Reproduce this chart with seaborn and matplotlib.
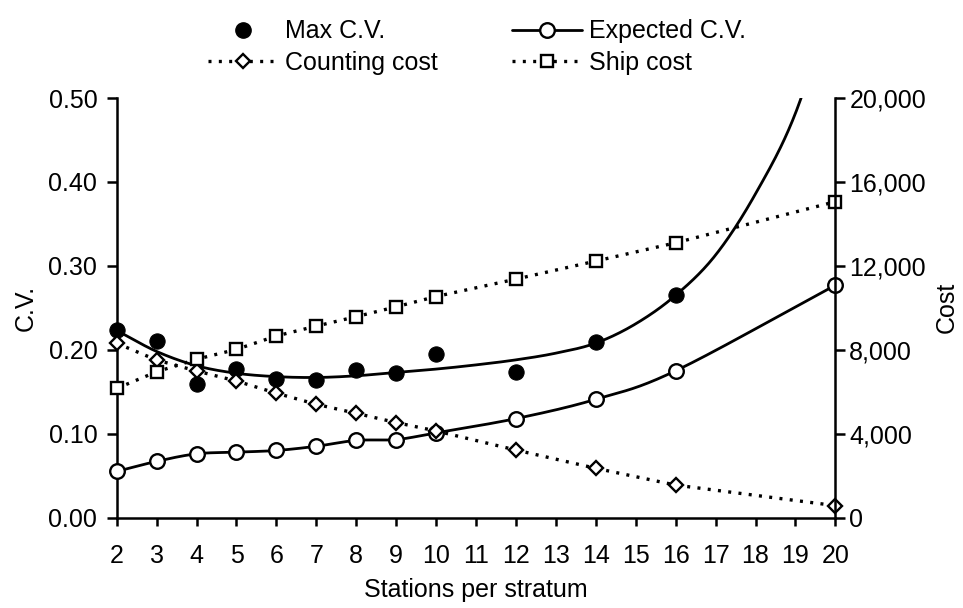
import numpy as np
import pandas as pd
import matplotlib
matplotlib.use("Agg")
import matplotlib.pyplot as plt
from matplotlib.lines import Line2D
from matplotlib.ticker import FuncFormatter
import seaborn as sns

# ---- data ----
stations = [2, 3, 4, 5, 6, 7, 8, 9, 10, 12, 14, 16, 20]
max_cv_stations = [2, 3, 4, 5, 6, 7, 8, 9, 10, 12, 14, 16]
max_cv = [0.223, 0.211, 0.159, 0.177, 0.165, 0.164, 0.176, 0.172, 0.195, 0.173, 0.209, 0.265]
expected_cv = [0.055, 0.067, 0.076, 0.078, 0.080, 0.085, 0.092, 0.093, 0.101, 0.118, 0.141, 0.175, 0.277]
counting_cost = [8310, 7510, 6990, 6510, 5930, 5400, 4970, 4530, 4130, 3220, 2350, 1550, 570]
ship_cost = [6160, 6950, 7550, 8020, 8660, 9130, 9580, 10050, 10540, 11370, 12230, 13100, 15060]

# fitted trend through the maximum C.V. values
trend_stations = list(range(2, 21))
max_cv_trend = [0.223, 0.198, 0.181, 0.172, 0.168, 0.167, 0.169, 0.173, 0.177, 0.182,
                0.188, 0.196, 0.208, 0.231, 0.265, 0.313, 0.386, 0.482, 0.630]

x_ticks = list(range(2, 21))
cv_ticks = [0.0, 0.1, 0.2, 0.3, 0.4, 0.5]
cost_ticks = [0, 4000, 8000, 12000, 16000, 20000]


def catmull_rom(x, y, n=40):
    """Smooth curve passing through every (x, y) point."""
    pts = np.column_stack([x, y]).astype(float)
    p = np.vstack([2 * pts[0] - pts[1], pts, 2 * pts[-1] - pts[-2]])
    t = np.linspace(0, 1, n, endpoint=False)[:, None]
    segs = []
    for i in range(1, len(p) - 2):
        p0, p1, p2, p3 = p[i - 1], p[i], p[i + 1], p[i + 2]
        segs.append(0.5 * (2 * p1 + (-p0 + p2) * t
                           + (2 * p0 - 5 * p1 + 4 * p2 - p3) * t ** 2
                           + (-p0 + 3 * p1 - 3 * p2 + p3) * t ** 3))
    segs.append(pts[-1][None])
    s = np.vstack(segs)
    return s[:, 0], s[:, 1]


sns.set_style("ticks")
plt.rcParams["font.family"] = ["Liberation Sans", "DejaVu Sans"]
plt.rcParams["font.size"] = 18
for key in ("text.color", "axes.labelcolor", "xtick.color", "ytick.color",
            "axes.edgecolor"):
    plt.rcParams[key] = "black"

fig = plt.figure(figsize=(9.63, 6.08), dpi=100)
ax = fig.add_axes([0.1212, 0.1487, 0.8675 - 0.1212, 0.8387 - 0.1487])
ax2 = ax.twinx()

lw = 2.0
dot_style = (0, (0.9, 2.2))
dot_lw = 2.4

# maximum C.V. trend (clipped at the top of the axis)
tx, ty = catmull_rom(trend_stations, max_cv_trend)
sns.lineplot(x=tx, y=ty, ax=ax, color="black", lw=lw, sort=False, estimator=None)

# expected C.V.
ex, ey = catmull_rom(stations, expected_cv)
sns.lineplot(x=ex, y=ey, ax=ax, color="black", lw=lw, sort=False, estimator=None)
sns.lineplot(x=stations, y=expected_cv, ax=ax, color="black", lw=0, marker="o",
             markersize=10.5, markerfacecolor="white", markeredgecolor="black",
             markeredgewidth=1.7, clip_on=False, zorder=5)

# maximum C.V. points
sns.lineplot(x=max_cv_stations, y=max_cv, ax=ax, color="black", lw=0, marker="o",
             markersize=11, markerfacecolor="black", markeredgecolor="black",
             clip_on=False, zorder=6)

# costs on the secondary axis
sns.lineplot(x=stations, y=counting_cost, ax=ax2, color="black", lw=dot_lw,
             linestyle=dot_style, marker="D", markersize=7.2, markerfacecolor="white",
             markeredgecolor="black", markeredgewidth=1.7, clip_on=False)
sns.lineplot(x=stations, y=ship_cost, ax=ax2, color="black", lw=dot_lw,
             linestyle=dot_style, marker="s", markersize=8.8, markerfacecolor="white",
             markeredgecolor="black", markeredgewidth=1.7, clip_on=False)

# axes styling
ax.set_xlim(2, 20)
ax.set_ylim(0, 0.5)
ax2.set_ylim(0, 20000)
ax.set_xticks(x_ticks)
ax.set_xticklabels([str(v) for v in x_ticks])
ax.set_yticks(cv_ticks)
ax.yaxis.set_major_formatter(FuncFormatter(lambda v, _: f"{v:.2f}"))
ax2.set_yticks(cost_ticks)
ax2.yaxis.set_major_formatter(FuncFormatter(lambda v, _: f"{int(v):,}"))

for a in (ax, ax2):
    a.spines["top"].set_visible(False)
    for s in ("left", "right", "bottom"):
        a.spines[s].set_linewidth(1.8)
        a.spines[s].set_color("black")
    a.set_facecolor("none")
    a.grid(False)
ax.spines["right"].set_visible(False)
ax2.spines["left"].set_visible(False)
ax2.spines["bottom"].set_visible(False)

ax.tick_params(axis="y", direction="out", length=7, width=1.8, pad=7)
ax.tick_params(axis="x", direction="out", length=6, width=1.8, pad=13)
ax2.tick_params(axis="y", direction="out", length=7, width=1.8, pad=3)

ax.set_xlabel("Stations per stratum", labelpad=7)
ax.set_ylabel("C.V.", labelpad=8)
ax2.set_ylabel("Cost", labelpad=6)

# legend above the plot
handles = [
    Line2D([], [], color="black", lw=0, marker="o", markersize=11,
           markerfacecolor="black"),
    Line2D([], [], color="black", lw=dot_lw, linestyle=dot_style, marker="D",
           markersize=7.2, markerfacecolor="white", markeredgewidth=1.7),
    Line2D([], [], color="black", lw=lw, marker="o", markersize=10.5,
           markerfacecolor="white", markeredgewidth=1.7),
    Line2D([], [], color="black", lw=dot_lw, linestyle=dot_style, marker="s",
           markersize=8.8, markerfacecolor="white", markeredgewidth=1.7),
]
labels = ["Max C.V.", "Counting cost", "Expected C.V.", "Ship cost"]
fig.legend(handles, labels, ncol=2, loc="upper left", bbox_to_anchor=(0.193, 1.005),
           frameon=False, handlelength=2.8, handletextpad=0.25, columnspacing=3.0,
           labelspacing=0.3, borderpad=0.4, fontsize=18)

fig.savefig("out.png", dpi=100)
